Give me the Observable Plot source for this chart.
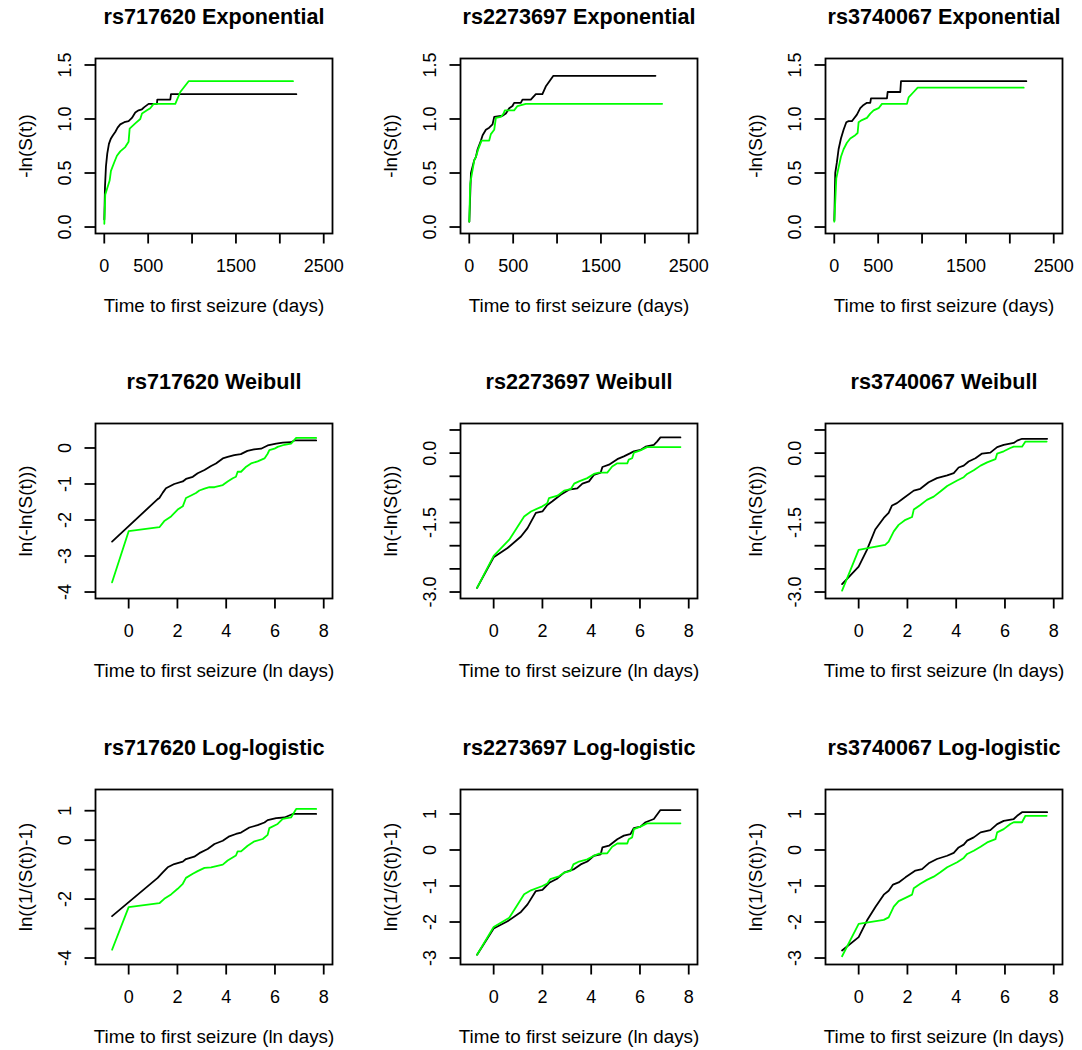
<!DOCTYPE html>
<html><head><meta charset="utf-8">
<script src="https://cdn.jsdelivr.net/npm/d3@7"></script>
<script src="https://cdn.jsdelivr.net/npm/@observablehq/plot@0.6"></script>
<style>
html,body{margin:0;padding:0;background:#fff;overflow:hidden;}
#chart{position:relative;width:1082px;height:1050px;}
.cell{position:absolute;}
</style></head><body><div id="chart"></div>
<script>
// ---------- titles / labels ----------
const snps = ["rs717620", "rs2273697", "rs3740067"];
const models = ["Exponential", "Weibull", "Log-logistic"];
const xLabels = ["Time to first seizure (days)", "Time to first seizure (ln days)", "Time to first seizure (ln days)"];
const yLabels = ["-ln(S(t))", "ln(-ln(S(t)))", "ln((1/(S(t))-1)"];

// ---------- tick values / labels ----------
const expXTicks = [0, 500, 1000, 1500, 2000, 2500];
const expXTickLabels = ["0", "500", "", "1500", "", "2500"];
const expYTicks = [0, 0.5, 1, 1.5];
const expYTickLabels = ["0.0", "0.5", "1.0", "1.5"];
const lnXTicks = [0, 2, 4, 6, 8];
const lnXTickLabels = ["0", "2", "4", "6", "8"];
const weibYTicksA = [-4, -3, -2, -1, 0];
const weibYTickLabelsA = ["-4", "-3", "-2", "-1", "0"];
const weibYTicksB = [-3, -2.5, -2, -1.5, -1, -0.5, 0, 0.5];
const weibYTickLabelsB = ["-3.0", "", "", "-1.5", "", "", "0.0", ""];
const llYTicksA = [-4, -3, -2, -1, 0, 1];
const llYTickLabelsA = ["-4", "", "-2", "", "0", "1"];
const llYTicksB = [-3, -2, -1, 0, 1];
const llYTickLabelsB = ["-3", "-2", "-1", "0", "1"];

// ---------- series: [x, y] ----------
// Exponential (x = days, y = -ln S)
const exp717620Black = [[0.5,0.07],[8,0.37],[19,0.56],[34,0.68],[53,0.77],[76,0.82],[99,0.85],[125,0.88],[152,0.92],[182,0.95],[228,0.97],[277,0.98],[315,1.01],[353,1.06],[391,1.08],[429,1.09],[456,1.11],[505,1.14],[600,1.14],[604,1.18],[752,1.18],[760,1.23],[2188,1.23]];
const exp717620Green = [[0.5,0.03],[11,0.3],[30,0.35],[61,0.43],[76,0.52],[114,0.6],[144,0.66],[182,0.7],[239,0.74],[277,0.79],[289,0.91],[353,0.96],[410,1.0],[430,1.05],[486,1.08],[524,1.1],[562,1.14],[809,1.14],[866,1.25],[961,1.35],[2150,1.35]];
const exp2273697Black = [[0.5,0.05],[19,0.5],[57,0.62],[76,0.65],[95,0.72],[133,0.8],[152,0.85],[189,0.9],[227,0.92],[265,0.95],[284,1.02],[379,1.03],[417,1.05],[455,1.1],[492,1.12],[511,1.15],[587,1.15],[606,1.18],[701,1.18],[758,1.23],[833,1.23],[871,1.3],[958,1.4],[2121,1.4]];
const exp2273697Green = [[0.5,0.05],[10,0.4],[57,0.62],[76,0.65],[102,0.72],[140,0.8],[227,0.8],[246,0.86],[284,0.9],[303,1.01],[360,1.02],[390,1.05],[405,1.08],[511,1.08],[549,1.12],[644,1.14],[2197,1.14]];
const exp3740067Black = [[0.5,0.06],[11,0.5],[30,0.6],[49,0.72],[76,0.82],[106,0.9],[137,0.97],[163,0.98],[201,0.98],[220,1.0],[258,1.04],[296,1.1],[334,1.13],[372,1.15],[410,1.15],[418,1.19],[600,1.19],[608,1.25],[752,1.25],[760,1.35],[2188,1.35]];
const exp3740067Green = [[0.5,0.05],[23,0.45],[49,0.55],[76,0.65],[106,0.72],[144,0.78],[182,0.82],[239,0.85],[266,0.87],[277,0.97],[315,0.99],[372,1.01],[410,1.05],[448,1.08],[505,1.1],[543,1.14],[828,1.14],[847,1.2],[904,1.25],[950,1.29],[2158,1.29]];
// Weibull (x = ln days, y = ln(-ln S))
const weib717620Black = [[-0.68,-2.6],[1.19,-1.42],[1.26,-1.39],[1.4,-1.24],[1.53,-1.12],[1.87,-1.0],[2.22,-0.93],[2.35,-0.86],[2.63,-0.8],[2.83,-0.7],[3.11,-0.61],[3.38,-0.5],[3.58,-0.43],[3.86,-0.29],[4.06,-0.25],[4.33,-0.2],[4.6,-0.17],[4.87,-0.08],[5.14,-0.04],[5.43,-0.02],[5.7,0.07],[6.05,0.12],[6.32,0.15],[6.66,0.16],[6.8,0.21],[7.69,0.21]];
const weib717620Green = [[-0.68,-3.73],[0,-2.31],[1.26,-2.2],[1.46,-2.03],[1.74,-1.9],[2.01,-1.71],[2.22,-1.62],[2.35,-1.39],[2.56,-1.32],[2.76,-1.25],[2.9,-1.18],[3.11,-1.13],[3.31,-1.09],[3.52,-1.09],[3.86,-1.03],[4.06,-0.93],[4.27,-0.84],[4.4,-0.8],[4.47,-0.66],[4.61,-0.66],[4.82,-0.52],[5.02,-0.43],[5.29,-0.37],[5.57,-0.29],[5.7,-0.16],[5.77,-0.06],[5.98,-0.02],[6.11,0.03],[6.39,0.09],[6.66,0.12],[6.87,0.28],[7.69,0.28]];
const weib2273697Black = [[-0.68,-2.91],[0,-2.25],[0.57,-2.05],[1.12,-1.8],[1.39,-1.62],[1.73,-1.29],[2.0,-1.26],[2.2,-1.12],[2.41,-1.04],[2.75,-0.9],[3.09,-0.79],[3.43,-0.76],[3.64,-0.66],[3.91,-0.61],[4.11,-0.47],[4.39,-0.42],[4.46,-0.3],[4.73,-0.25],[5.07,-0.13],[5.34,-0.07],[5.61,0.0],[5.75,0.04],[6.02,0.07],[6.23,0.14],[6.57,0.18],[6.7,0.25],[6.84,0.34],[7.66,0.34]];
const weib2273697Green = [[-0.68,-2.91],[0,-2.22],[0.64,-1.87],[1.25,-1.37],[1.53,-1.26],[2.0,-1.15],[2.2,-1.08],[2.27,-0.97],[2.62,-0.92],[2.89,-0.81],[3.16,-0.78],[3.3,-0.66],[3.5,-0.61],[3.84,-0.54],[4.11,-0.45],[4.32,-0.42],[4.66,-0.42],[4.86,-0.29],[5.07,-0.22],[5.48,-0.22],[5.54,-0.14],[5.68,-0.11],[5.75,0.01],[6.02,0.06],[6.29,0.13],[7.66,0.13]];
const weib3740067Black = [[-0.68,-2.83],[0,-2.45],[0.34,-2.09],[0.68,-1.65],[1.03,-1.4],[1.23,-1.29],[1.37,-1.13],[1.57,-1.08],[1.85,-0.97],[2.26,-0.81],[2.53,-0.77],[2.87,-0.63],[3.21,-0.54],[3.63,-0.48],[3.9,-0.43],[4.1,-0.31],[4.31,-0.27],[4.51,-0.18],[4.79,-0.11],[5.06,-0.01],[5.4,0.01],[5.68,0.13],[5.95,0.18],[6.36,0.22],[6.5,0.27],[6.7,0.31],[7.73,0.31]];
const weib3740067Green = [[-0.68,-2.97],[0,-2.09],[1.09,-1.98],[1.23,-1.91],[1.44,-1.69],[1.64,-1.55],[1.92,-1.44],[2.19,-1.38],[2.26,-1.22],[2.53,-1.12],[2.8,-1.01],[3.08,-0.94],[3.35,-0.83],[3.63,-0.71],[4.04,-0.59],[4.31,-0.52],[4.45,-0.45],[4.72,-0.37],[5.0,-0.27],[5.27,-0.2],[5.61,-0.13],[5.68,-0.01],[5.95,0.04],[6.22,0.11],[6.36,0.14],[6.7,0.14],[6.84,0.25],[7.71,0.25]];
// Log-logistic (x = ln days, y = ln(1/S - 1))
const ll717620Black = [[-0.68,-2.58],[1.19,-1.28],[1.4,-1.09],[1.6,-0.92],[1.87,-0.81],[2.22,-0.73],[2.35,-0.64],[2.69,-0.56],[2.9,-0.44],[3.24,-0.3],[3.52,-0.13],[3.86,-0.02],[4.13,0.13],[4.4,0.21],[4.61,0.26],[4.95,0.43],[5.29,0.51],[5.57,0.6],[5.7,0.68],[6.05,0.75],[6.39,0.77],[6.73,0.89],[7.69,0.89]];
const ll717620Green = [[-0.68,-3.72],[0,-2.27],[1.26,-2.14],[1.46,-1.99],[1.74,-1.84],[2.01,-1.65],[2.22,-1.48],[2.35,-1.28],[2.63,-1.14],[2.83,-1.05],[3.11,-0.94],[3.38,-0.92],[3.86,-0.83],[4.06,-0.69],[4.4,-0.52],[4.47,-0.38],[4.61,-0.38],[4.88,-0.19],[5.16,-0.04],[5.5,0.04],[5.7,0.18],[5.77,0.41],[6.11,0.55],[6.32,0.72],[6.66,0.77],[6.87,1.06],[7.69,1.06]];
const ll2273697Black = [[-0.68,-2.91],[0,-2.18],[0.57,-1.98],[1.12,-1.72],[1.39,-1.51],[1.73,-1.14],[2.0,-1.11],[2.28,-0.91],[2.62,-0.79],[2.89,-0.63],[3.09,-0.58],[3.3,-0.53],[3.57,-0.4],[3.84,-0.32],[4.11,-0.16],[4.39,-0.12],[4.46,0.07],[4.73,0.12],[5.07,0.3],[5.34,0.4],[5.61,0.44],[5.75,0.61],[6.02,0.65],[6.23,0.77],[6.57,0.86],[6.84,1.11],[7.66,1.11]];
const ll2273697Green = [[-0.68,-2.91],[0,-2.14],[0.64,-1.88],[1.25,-1.23],[1.53,-1.12],[2.0,-1.0],[2.2,-0.93],[2.32,-0.81],[2.68,-0.73],[2.89,-0.63],[3.16,-0.58],[3.27,-0.4],[3.5,-0.32],[3.84,-0.26],[4.11,-0.16],[4.32,-0.1],[4.66,-0.09],[4.86,0.09],[5.07,0.18],[5.48,0.18],[5.54,0.3],[5.68,0.35],[5.75,0.58],[6.02,0.65],[6.29,0.74],[7.66,0.74]];
const ll3740067Black = [[-0.68,-2.79],[0,-2.42],[0.34,-1.96],[0.68,-1.59],[1.03,-1.24],[1.23,-1.13],[1.41,-0.96],[1.64,-0.9],[1.92,-0.76],[2.33,-0.57],[2.6,-0.53],[2.87,-0.37],[3.21,-0.25],[3.63,-0.16],[3.9,-0.08],[4.1,0.07],[4.31,0.15],[4.45,0.26],[4.72,0.35],[5.0,0.49],[5.4,0.55],[5.68,0.72],[5.95,0.81],[6.36,0.86],[6.5,0.95],[6.7,1.05],[7.73,1.05]];
const ll3740067Green = [[-0.68,-2.95],[0,-2.05],[1.03,-1.94],[1.23,-1.87],[1.44,-1.57],[1.64,-1.42],[1.92,-1.33],[2.19,-1.24],[2.26,-1.06],[2.53,-0.94],[2.8,-0.83],[3.08,-0.74],[3.35,-0.62],[3.63,-0.48],[4.04,-0.34],[4.31,-0.22],[4.45,-0.11],[4.72,-0.02],[5.0,0.09],[5.27,0.21],[5.61,0.3],[5.68,0.49],[5.95,0.58],[6.22,0.72],[6.36,0.77],[6.7,0.77],[6.84,0.95],[7.71,0.95]];

// ---------- layout ----------
const FONT = '"Liberation Sans", Arial, Helvetica, sans-serif';
const ML = 90, MR = 20, MT = 58, MB = 85, W = 237, H = 175;
const frameLefts = [95, 460, 825];
const frameTops = [58.4, 423.4, 788.6];

const rowsCfg = [
  {xDomain: [-100, 2600], xTicks: expXTicks, xTickLabels: expXTickLabels,
   yDomains: [[-0.06, 1.56], [-0.06, 1.56], [-0.06, 1.56]],
   yTicks: [expYTicks, expYTicks, expYTicks], yTickLabels: [expYTickLabels, expYTickLabels, expYTickLabels],
   series: [[exp717620Black, exp717620Green], [exp2273697Black, exp2273697Green], [exp3740067Black, exp3740067Green]]},
  {xDomain: [-1.36, 8.36], xTicks: lnXTicks, xTickLabels: lnXTickLabels,
   yDomains: [[-4.18, 0.68], [-3.14, 0.64], [-3.14, 0.64]],
   yTicks: [weibYTicksA, weibYTicksB, weibYTicksB], yTickLabels: [weibYTickLabelsA, weibYTickLabelsB, weibYTickLabelsB],
   series: [[weib717620Black, weib717620Green], [weib2273697Black, weib2273697Green], [weib3740067Black, weib3740067Green]]},
  {xDomain: [-1.36, 8.36], xTicks: lnXTicks, xTickLabels: lnXTickLabels,
   yDomains: [[-4.22, 1.72], [-3.18, 1.68], [-3.18, 1.68]],
   yTicks: [llYTicksA, llYTicksB, llYTicksB], yTickLabels: [llYTickLabelsA, llYTickLabelsB, llYTickLabelsB],
   series: [[ll717620Black, ll717620Green], [ll2273697Black, ll2273697Green], [ll3740067Black, ll3740067Green]]}
];

const chart = document.getElementById("chart");

rowsCfg.forEach((row, r) => {
  snps.forEach((snp, c) => {
    const xMap = new Map(row.xTicks.map((t, i) => [t, row.xTickLabels[i]]));
    const yMap = new Map(row.yTicks[c].map((t, i) => [t, row.yTickLabels[c][i]]));
    const [black, green] = row.series[c];
    const svg = Plot.plot({
      width: ML + W + MR,
      height: MT + H + MB,
      marginLeft: ML, marginRight: MR, marginTop: MT, marginBottom: MB,
      style: {fontFamily: FONT, fontSize: "18px", background: "transparent", overflow: "visible", color: "black"},
      x: {domain: row.xDomain},
      y: {domain: row.yDomains[c]},
      marks: [
        Plot.line(black, {x: d => d[0], y: d => d[1], stroke: "black", strokeWidth: 1.8}),
        Plot.line(green, {x: d => d[0], y: d => d[1], stroke: "#00ff00", strokeWidth: 1.8}),
        Plot.frame({stroke: "black", strokeWidth: 1.8}),
        Plot.axisX(row.xTicks, {anchor: "bottom", tickSize: 10.5, tickPadding: 15, strokeWidth: 1.8,
          tickFormat: d => xMap.get(d), fontSize: 18, label: null}),
        Plot.axisY(row.yTicks[c], {anchor: "left", tickSize: 10.5, tickPadding: 14.5, tickRotate: -90, strokeWidth: 1.8,
          tickFormat: d => yMap.get(d), fontSize: 18, label: null}),
        Plot.text([`${snp} ${models[r]}`], {frameAnchor: "top", dy: -35, lineAnchor: "bottom", textAnchor: "middle",
          fontWeight: "bold", fontSize: 21.6, fill: "black"}),
        Plot.text([xLabels[r]], {frameAnchor: "bottom", dy: 78, lineAnchor: "bottom", textAnchor: "middle", fontSize: 18.8, fill: "black"}),
        Plot.text([yLabels[r]], {frameAnchor: "left", dx: -64, rotate: -90, lineAnchor: "bottom", textAnchor: "middle", fontSize: 18.8, fill: "black"})
      ]
    });
    const cell = document.createElement("div");
    cell.className = "cell";
    cell.style.left = (frameLefts[c] - ML) + "px";
    cell.style.top = (frameTops[r] - MT) + "px";
    cell.appendChild(svg);
    chart.appendChild(cell);
  });
});
</script></body></html>
